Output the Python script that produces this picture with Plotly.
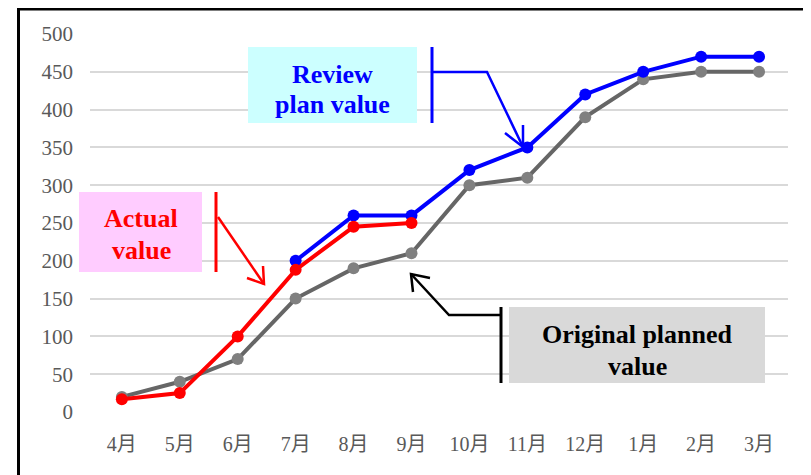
import plotly.graph_objects as go

months = ["4月", "5月", "6月", "7月", "8月", "9月", "10月", "11月", "12月", "1月", "2月", "3月"]
original_plan = [20, 40, 70, 150, 190, 210, 300, 310, 390, 440, 450, 450]
review_plan = [None, None, None, 200, 260, 260, 320, 350, 420, 450, 470, 470]
actual = [17, 25, 100, 188, 245, 250, None, None, None, None, None, None]
y_ticks = [0, 50, 100, 150, 200, 250, 300, 350, 400, 450, 500]

OFF = 8  # page body margin
W, H = 811 - OFF, 475 - OFF
L, R, T, B = 90, 788, 34, 412  # plot area pixel bounds in page coords


def px(x):
    return (x - L) / (R - L)


def py(y):
    return (B - y) / (B - T)


fig = go.Figure()
fig.add_trace(go.Scatter(x=months, y=original_plan, mode="lines+markers",
                         line=dict(color="#666666", width=4),
                         marker=dict(color="#808080", size=12), showlegend=False))
fig.add_trace(go.Scatter(x=months, y=review_plan, mode="lines+markers",
                         line=dict(color="#0000FF", width=4),
                         marker=dict(color="#0000FF", size=12), showlegend=False))
fig.add_trace(go.Scatter(x=months, y=actual, mode="lines+markers",
                         line=dict(color="#FF0000", width=4),
                         marker=dict(color="#FF0000", size=12), showlegend=False))

shapes = []


def rect(x0, y0, x1, y1, fill):
    shapes.append(dict(type="rect", xref="paper", yref="paper",
                       x0=px(x0), x1=px(x1), y0=py(y1), y1=py(y0),
                       fillcolor=fill, line=dict(width=0), layer="above"))


def poly(points, color, width):
    d = "M " + " L ".join(f"{px(a)},{py(b)}" for a, b in points)
    shapes.append(dict(type="path", xref="paper", yref="paper", path=d,
                       line=dict(color=color, width=width), layer="above"))


# frame
poly([(18.5, 490), (18.5, 9), (809, 9)], "black", 3)

# Review plan value
rect(248, 47, 417, 123, "#CCFFFF")
poly([(432, 47), (432, 123)], "#0000FF", 3)
poly([(432, 72), (487, 72), (523, 147)], "#0000FF", 2.5)
poly([(505, 133), (523, 147), (523, 125)], "#0000FF", 2.5)

# Actual value
rect(79, 192, 202, 272, "#FFCCFF")
poly([(216, 192), (216, 272)], "#FF0000", 3)
poly([(218, 217), (264, 284)], "#FF0000", 2.5)
poly([(247, 278), (264, 284), (263, 266)], "#FF0000", 2.5)

# Original planned value
rect(509, 307, 765, 383, "#D9D9D9")
poly([(501, 307), (501, 383)], "black", 3)
poly([(501, 315), (449, 315), (411, 274)], "black", 2.5)
poly([(413, 292), (411, 274), (430, 278)], "black", 2.5)

annotations = []


def label(text, x, y, color):
    annotations.append(dict(text=f"<b>{text}</b>", xref="paper", yref="paper",
                            x=px(x), y=py(y), xanchor="center", yanchor="middle",
                            showarrow=False,
                            font=dict(family="Liberation Serif", size=26, color=color)))


label("Review", 332, 74, "#0000FF")
label("plan value", 332, 105, "#0000FF")
label("Actual", 141, 218, "#FF0000")
label("value", 141, 250, "#FF0000")
label("Original planned", 637, 334, "#000000")
label("value", 637, 366, "#000000")

fig.update_layout(
    width=W, height=H,
    margin=dict(l=L - OFF, r=W - (R - OFF), t=T - OFF, b=H - (B - OFF)),
    paper_bgcolor="white", plot_bgcolor="white",
    shapes=shapes, annotations=annotations,
    font=dict(family="Liberation Serif, Noto Sans CJK JP", color="#595959"),
    xaxis=dict(type="category", categoryorder="array", categoryarray=months,
               range=[-0.55, 11.5],
               showgrid=False, zeroline=False, showline=False, ticks="",
               tickfont=dict(size=20, color="#595959",
                             family="Liberation Serif, Noto Sans CJK JP"),
               ticklabelstandoff=18),
    yaxis=dict(range=[0, 500], tickvals=y_ticks, showgrid=True,
               gridcolor="#D9D9D9", gridwidth=1.5, zeroline=False, showline=False,
               ticks="", tickfont=dict(size=21, color="#595959", family="Liberation Serif"),
               ticklabelstandoff=16),
)

fig.write_html("out.html")
